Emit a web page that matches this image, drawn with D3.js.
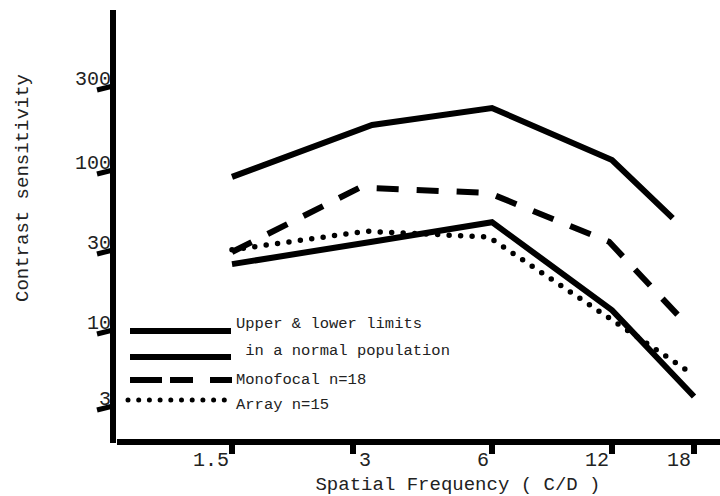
<!DOCTYPE html>
<html>
<head>
<meta charset="utf-8">
<script src="https://cdn.jsdelivr.net/npm/d3@7"></script>
<style>
  body { margin: 0; background: #fff; }
  text { font-family: "Courier New", "Liberation Mono", monospace; fill: #222; }
</style>
</head>
<body>
<script>
//tick values on both axes
var yTicks = [3, 10, 30, 100, 300];
var xTicks = [1.5, 3, 6, 12, 18];

//series (spatial frequency, contrast sensitivity)
var upperFreq = [1.5, 3.3, 6, 12, 16.2];
var upperCS = [93, 185, 231, 117, 50];
var lowerFreq = [1.5, 3.3, 6, 12, 18];
var lowerCS = [25.4, 35, 47, 13.5, 3.6];
var monoFreq = [1.5, 3.1, 5.9, 11.8, 17];
var monoCS = [30, 79, 73, 35, 11.8];
var arrayFreq = [1.5, 3.2, 5.9, 12, 17.6];
var arrayCS = [31, 41, 37.6, 11.8, 5.3];

//legend entries
var legendLabels = ["Upper & lower limits", " in a normal population", "Monofocal n=18", "Array n=15"];

window.onload = function(){
  var w = 720, h = 496;

  var svg = d3.select("body").append("svg")
      .attr("width", w)
      .attr("height", h);

  //hand drawn axes are not evenly spaced, so use piecewise log scales
  var x = d3.scaleLog()
      .domain(xTicks)
      .range([232, 353, 492, 612, 694]);

  var y = d3.scaleLog()
      .domain(yTicks)
      .range([408, 332, 252, 172, 88]);

  //axis lines
  svg.append("line")
      .attr("x1", 113).attr("x2", 113)
      .attr("y1", 10).attr("y2", 443)
      .style("stroke", "#000").style("stroke-width", 6);

  svg.append("line")
      .attr("x1", 117).attr("x2", 720)
      .attr("y1", 442).attr("y2", 442)
      .style("stroke", "#000").style("stroke-width", 6);

  //y ticks, slightly slanted like the original
  svg.selectAll(".ytick")
      .data(yTicks)
      .enter()
      .append("line")
      .attr("class", "ytick")
      .attr("x1", 97).attr("x2", 113)
      .attr("y1", function(d){ return y(d) + 2; })
      .attr("y2", function(d){ return y(d) - 2; })
      .style("stroke", "#000").style("stroke-width", 5);

  svg.selectAll(".ylab")
      .data(yTicks)
      .enter()
      .append("text")
      .attr("class", "ylab")
      .attr("text-anchor", "end")
      .attr("x", 111)
      .attr("y", function(d){ return y(d) - 3; })
      .style("font-size", "20px")
      .text(function(d){ return d; });

  //x ticks
  svg.selectAll(".xtick")
      .data(xTicks)
      .enter()
      .append("line")
      .attr("class", "xtick")
      .attr("x1", function(d){ return x(d); })
      .attr("x2", function(d){ return x(d); })
      .attr("y1", 440).attr("y2", 454)
      .style("stroke", "#000").style("stroke-width", 6);

  svg.selectAll(".xlab")
      .data(xTicks)
      .enter()
      .append("text")
      .attr("class", "xlab")
      .attr("text-anchor", function(d){ return d === 3 ? "start" : "end"; })
      .attr("x", function(d){ return d === 3 ? x(d) + 6 : x(d) - 3; })
      .attr("y", 466)
      .style("font-size", "20px")
      .text(function(d){ return d; });

  //axis titles
  svg.append("text")
      .attr("text-anchor", "middle")
      .attr("x", 458)
      .attr("y", 490)
      .style("font-size", "19px")
      .text("Spatial Frequency ( C/D )");

  svg.append("text")
      .attr("text-anchor", "middle")
      .attr("transform", "translate(28,188) rotate(-90)")
      .style("font-size", "19px")
      .text("Contrast sensitivity");

  //line generator
  var line = d3.line()
      .x(function(d){ return x(d[0]); })
      .y(function(d){ return y(d[1]); });

  function pairs(f, v){
    return f.map(function(d, i){ return [d, v[i]]; });
  }

  var series = [
    {pts: pairs(upperFreq, upperCS), dash: null, cap: "butt"},
    {pts: pairs(lowerFreq, lowerCS), dash: null, cap: "butt"},
    {pts: pairs(monoFreq, monoCS), dash: "22,18", cap: "butt"},
    {pts: pairs(arrayFreq, arrayCS), dash: "0,11.5", cap: "round"}
  ];

  svg.selectAll(".series")
      .data(series)
      .enter()
      .append("path")
      .attr("class", "series")
      .attr("d", function(d){ return line(d.pts); })
      .style("fill", "none")
      .style("stroke", "#000")
      .style("stroke-width", function(d){ return d.cap === "round" ? 5.5 : 6; })
      .style("stroke-linejoin", "miter")
      .style("stroke-linecap", function(d){ return d.cap; })
      .style("stroke-dasharray", function(d){ return d.dash; });

  //legend
  var legendY = [331, 357, 380, 400];
  var legendStyle = [
    {dash: null, cap: "butt", x1: 130, x2: 231},
    {dash: null, cap: "butt", x1: 130, x2: 231},
    {dash: "32,8,23,17,22", cap: "butt", x1: 130, x2: 232},
    {dash: "0,10.7", cap: "round", x1: 128, x2: 226}
  ];

  svg.selectAll(".legline")
      .data(legendStyle)
      .enter()
      .append("line")
      .attr("class", "legline")
      .attr("x1", function(d){ return d.x1; })
      .attr("x2", function(d){ return d.x2; })
      .attr("y1", function(d, i){ return legendY[i]; })
      .attr("y2", function(d, i){ return legendY[i]; })
      .style("stroke", "#000")
      .style("stroke-width", function(d){ return d.cap === "round" ? 5 : 6; })
      .style("stroke-linecap", function(d){ return d.cap; })
      .style("stroke-dasharray", function(d){ return d.dash; });

  svg.selectAll(".legtext")
      .data(legendLabels)
      .enter()
      .append("text")
      .attr("class", "legtext")
      .attr("x", 236)
      .attr("y", function(d, i){ return [328, 355, 384, 409][i]; })
      .style("font-size", "15.5px")
      .style("white-space", "pre")
      .attr("xml:space", "preserve")
      .text(function(d){ return d; });
};
</script>
</body>
</html>
